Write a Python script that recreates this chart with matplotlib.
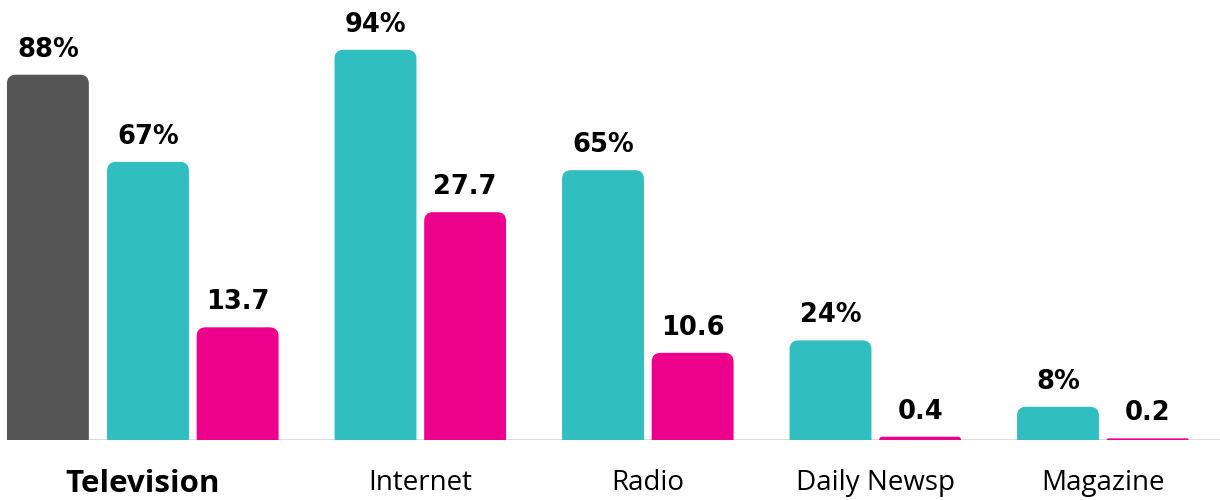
import matplotlib
matplotlib.use("Agg")
import matplotlib.pyplot as plt
from matplotlib.path import Path
from matplotlib.patches import PathPatch
from matplotlib.transforms import IdentityTransform

categories = ["Television", "Internet", "Radio", "Daily Newsp", "Magazine"]
reach_pct = [67, 94, 65, 24, 8]           # teal bars (%)
time_spent = [13.7, 27.7, 10.6, 0.4, 0.2]  # pink bars
tv_highlight = 88                          # dark bar for Television (%)
reach_labels = ["67%", "94%", "65%", "24%", "8%"]
time_labels = ["13.7", "27.7", "10.6", "0.4", "0.2"]
tv_label = "88%"

GRAY = "#555555"
TEAL = "#31BEC0"
PINK = "#EC008C"

fig = plt.figure(figsize=(12.2, 5), dpi=100)
ax = fig.add_axes([0, 0.12, 1, 0.88])
ax2 = ax.twinx()

x0_px = 148.0
step_px = 227.5
xmin = (0 - x0_px) / step_px
xmax = (1220 - x0_px) / step_px
ax.set_xlim(xmin, xmax)
ax2.set_xlim(xmin, xmax)
ax.set_ylim(0, 106)
ax2.set_ylim(0, 53.5)

w = 0.36
pink_off = 0.394
gray_off = -0.44

idx = list(range(len(categories)))
b_teal = ax.bar(idx, reach_pct, width=w, color=TEAL, visible=False)
b_pink = ax2.bar([i + pink_off for i in idx], time_spent, width=w, color=PINK, visible=False)
b_gray = ax.bar([gray_off], [tv_highlight], width=w, color=GRAY, visible=False)

for a in (ax, ax2):
    for s in a.spines.values():
        s.set_visible(False)
ax2.set_yticks([])
ax.set_yticks([])

ax.axhline(0, xmin=8 / 1220, xmax=1, color="#d9d9d9", lw=2, zorder=0)


def rounded_top(axis, rect, color, r=9):
    x, y = rect.get_x(), rect.get_y()
    wd, ht = rect.get_width(), rect.get_height()
    (px0, py0) = axis.transData.transform((x, y))
    (px1, py1) = axis.transData.transform((x + wd, y + ht))
    rr = min(r, (py1 - py0), (px1 - px0) / 2)
    verts = [
        (px0, py0), (px0, py1 - rr), (px0, py1), (px0 + rr, py1),
        (px1 - rr, py1), (px1, py1), (px1, py1 - rr), (px1, py0), (px0, py0),
    ]
    codes = [Path.MOVETO, Path.LINETO, Path.CURVE3, Path.CURVE3,
             Path.LINETO, Path.CURVE3, Path.CURVE3, Path.LINETO, Path.CLOSEPOLY]
    p = PathPatch(Path(verts, codes), facecolor=color, edgecolor="none",
                  transform=IdentityTransform(), zorder=3)
    fig.add_artist(p)


for rect in b_teal:
    rounded_top(ax, rect, TEAL)
for rect in b_pink:
    rounded_top(ax2, rect, PINK)
for rect in b_gray:
    rounded_top(ax, rect, GRAY)

vfont = dict(family="DejaVu Sans", fontweight="bold", fontsize=18.5, color="black",
             ha="center", va="bottom")


def label(axis, rect, txt):
    axis.annotate(txt, (rect.get_x() + rect.get_width() / 2, rect.get_height()),
                  xytext=(0, 12), textcoords="offset pixels", **vfont)


for rect, t in zip(b_teal, reach_labels):
    label(ax, rect, t)
for rect, t in zip(b_pink, time_labels):
    label(ax2, rect, t)
label(ax, b_gray[0], tv_label)

tick_pos = [(gray_off + pink_off) / 2] + [i + pink_off / 2 for i in idx[1:]]
ax.set_xticks(tick_pos)
ax.set_xticklabels(categories, fontsize=20, family="Open Sans")
ax.tick_params(axis="x", length=0, pad=21)
ax.get_xticklabels()[0].set_fontweight("bold")
ax.get_xticklabels()[0].set_fontsize(22.5)

fig.savefig("out.png", dpi=100)
